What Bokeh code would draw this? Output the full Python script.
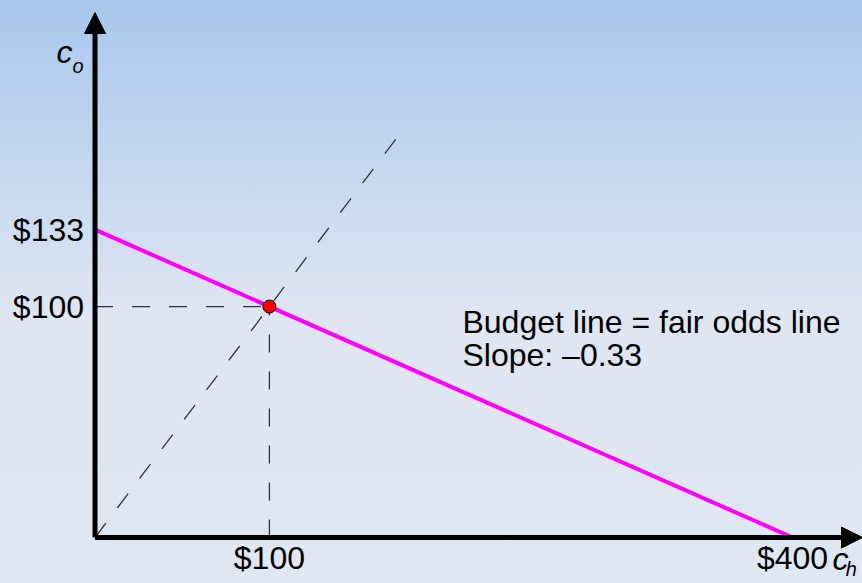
from bokeh.plotting import figure
from bokeh.models import Range1d, FixedTicker, Arrow, NormalHead, Label
from bokeh.embed import file_html
from bokeh.resources import INLINE

# ---- data ----
budget_x = [0, 400]
budget_y = [133.33, 0]
choice_x = [100]
choice_y = [100]
certainty_x = [0, 175]
certainty_y = [0, 175]
guide_h_x = [0, 100]
guide_h_y = [100, 100]
guide_v_x = [100, 100]
guide_v_y = [0, 100]
x_ticks = [100, 400]
x_tick_labels = ["$100", "$400"]
y_ticks = [100, 133.33]
y_tick_labels = ["$100", "$133"]
note_lines = ["Budget line = fair odds line", "Slope: \u20130.33"]

FONT = "Liberation Sans"
X_START, X_END = -54.2, 440.1
Y_START, Y_END = -19.9, 232.5
Y_TIP = 227.3

p = figure(width=862, height=583, x_range=Range1d(X_START, X_END), y_range=Range1d(Y_START, Y_END),
           output_backend="svg", toolbar_location=None,
           min_border_left=0, min_border_right=0, min_border_top=0, min_border_bottom=0)
p.background_fill_alpha = 0
p.border_fill_alpha = 0
p.outline_line_color = None
p.grid.visible = False
p.styles = {"background": "linear-gradient(to bottom, #a8c7ec 0%, #dfe6f2 55%, #dfe7f3 100%)"}

for ax in (p.xaxis[0], p.yaxis[0]):
    ax.fixed_location = 0
    ax.axis_line_color = None
    ax.major_tick_line_color = None
    ax.minor_tick_line_color = None
    ax.major_label_text_font = FONT
    ax.major_label_text_font_size = "32px"
    ax.major_label_text_color = "black"

p.xaxis.ticker = FixedTicker(ticks=x_ticks)
p.xaxis.major_label_overrides = dict(zip(x_ticks, x_tick_labels))
p.xaxis.major_label_standoff = -4
p.yaxis.ticker = FixedTicker(ticks=y_ticks)
p.yaxis.major_label_overrides = dict(zip(y_ticks, y_tick_labels))
p.yaxis.major_label_standoff = 5

# axes with arrowheads
for xe, ye in ((0, Y_TIP), (X_END, 0)):
    p.add_layout(Arrow(end=NormalHead(size=21, fill_color="black", line_color="black"),
                       x_start=0, y_start=0, x_end=xe, y_end=ye,
                       line_width=5, line_color="black"))

dash = dict(line_color="#333333", line_width=1.3, line_dash="18 19")
p.line(certainty_x, certainty_y, **dash)
p.line(guide_h_x, guide_h_y, **dash)
p.line(guide_v_x, guide_v_y, **dash)

p.line(budget_x, budget_y, line_color="#ff00ff", line_width=4)
p.scatter(choice_x, choice_y, size=13, fill_color="#ff0000", line_color="black", line_width=1)

# annotation text
note = dict(text_font=FONT, text_font_size="32px", text_color="black", text_baseline="middle")
p.add_layout(Label(x=210.7, y=93.5, text=note_lines[0], **note))
p.add_layout(Label(x=210.7, y=79.2, text=note_lines[1], **note))

# axis titles c_o and c_h
ital = dict(text_font=FONT, text_font_style="italic", text_color="black", text_baseline="middle")
p.add_layout(Label(x=-22.1, y=210.2, text="c", text_font_size="32px", **ital))
p.add_layout(Label(x=-12.9, y=204.3, text="o", text_font_size="20px", **ital))
p.add_layout(Label(x=422.9, y=-9.1, text="c", text_font_size="32px", **ital))
p.add_layout(Label(x=430.5, y=-13.8, text="h", text_font_size="20px", **ital))

open("out.html", "w").write(file_html(p, INLINE))
